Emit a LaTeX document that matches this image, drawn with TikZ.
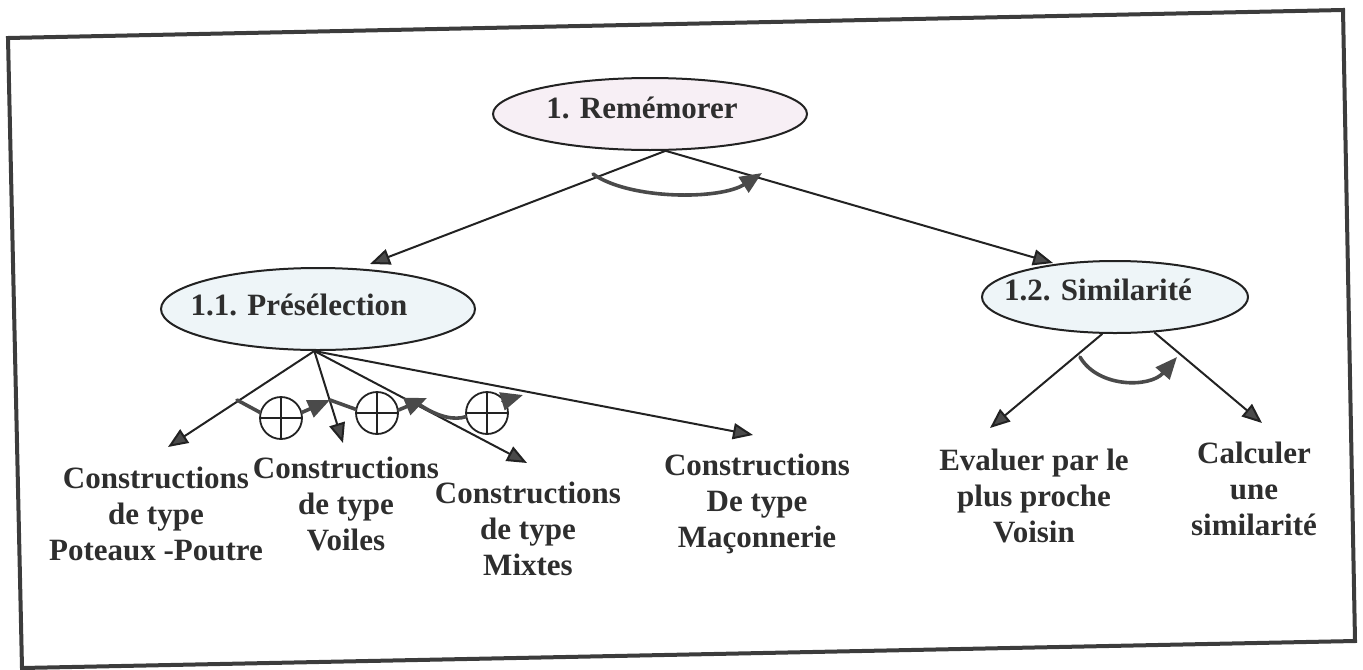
\documentclass[tikz,border=0pt]{standalone}
\usepackage{fontspec}
\setmainfont{Liberation Serif}
\usetikzlibrary{arrows.meta,shapes.geometric,calc}
\definecolor{ink}{HTML}{222222}
\definecolor{txt}{HTML}{2E2E2E}
\definecolor{headgray}{HTML}{4A4A4A}
\definecolor{framegray}{HTML}{3C3C3C}
\definecolor{pinkfill}{HTML}{F7EFF5}
\definecolor{bluefill}{HTML}{EEF5F8}
\begin{document}
\begin{tikzpicture}[x=0.5pt,y=-0.5pt,
  lbl/.style={font=\bfseries\fontsize{15.5pt}{17.9pt}\selectfont, text=txt, inner sep=0pt, align=center, anchor=base},
  goal/.style={ellipse, draw=ink, line width=1pt, inner sep=0pt},
  link/.style={draw=ink, line width=1pt, -{Triangle[length=10pt,width=8pt,fill=headgray]}},
  flow/.style={draw=headgray, line width=1.8pt, line cap=round},
  flowtip/.style={flow, -{Triangle[length=11pt,width=9pt]}},
  opl/.style={circle, draw=ink, fill=white, line width=0.9pt, minimum size=21pt, inner sep=0pt},
]
\useasboundingbox (0,0) rectangle (1363,669);

% outer frame
\draw[line width=2pt, draw=framegray, line join=miter] (8,38) -- (1343,10) -- (1355,641) -- (22,668) -- cycle;

% goal ellipses
\node[goal, fill=pinkfill, minimum width=157pt, minimum height=36pt] (rem) at (650,114) {};
\node[lbl] (remt) at (642,118) {1. Remémorer};
\node[goal, fill=bluefill, minimum width=157pt, minimum height=41pt] (pre) at (318,309) {};
\node[lbl] (pret) at (299,315) {1.1. Présélection};
\node[goal, fill=bluefill, minimum width=133pt, minimum height=36pt] (sim) at (1115,297) {};
\node[lbl] (simt) at (1098,300) {1.2. Similarité};

% leaf labels (anchored on the baseline of their last line)
\node[lbl] (poteaux) at (156,560) {Constructions\\de type\\Poteaux -Poutre};
\node[lbl] (voiles) at (346,550) {Constructions\\de type\\Voiles};
\node[lbl] (mixtes) at (528,575) {Constructions\\de type\\Mixtes};
\node[lbl] (maconn) at (757,547) {Constructions\\De type\\Maçonnerie};
\node[lbl] (voisin) at (1034,542) {Evaluer par le\\plus proche\\Voisin};
\node[lbl] (calcul) at (1254,535) {Calculer\\une\\similarité};

% arrow tips above the leaves
\coordinate (tipPre) at (370,264);
\coordinate (tipSim) at (1053,263);
\coordinate (tipPot) at (168,447);
\coordinate (tipVoi) at (343,443);
\coordinate (tipMix) at (527,463);
\coordinate (tipMac) at (753,435);
\coordinate (tipVsn) at (990,428);
\coordinate (tipCal) at (1262,423);

% decomposition links
\draw[link] (rem.-67) -- (tipPre);
\draw[link] (rem.-67) -- (tipSim);
\draw[link] (pre.-95) -- (tipPot);
\draw[link] (pre.-95) -- (tipVoi);
\draw[link] (pre.-95) -- (tipMix);
\draw[link] (pre.-95) -- (tipMac);
\draw[link] (sim.-109) -- (tipVsn);
\draw[link] (sim.-42) -- (tipCal);

% sequence arcs
\coordinate (r0) at (593,174);
\coordinate (r1) at (762,173);
\draw[flowtip] (r0) .. controls (630,200) and (720,200) .. (r1);
\coordinate (s0) at (1080,357);
\coordinate (s1) at (1177,357);
\draw[flowtip] (s0) .. controls (1098,388) and (1150,388) .. (s1);

% alternatives with plus circles
\node[opl] (c1) at (281,418) {};
\node[opl] (c2) at (377,413) {};
\node[opl] (c3) at (487,413) {};
\foreach \c in {c1,c2,c3}{
  \draw[ink, line width=0.9pt] (\c.north) -- (\c.south) (\c.west) -- (\c.east);
}
\coordinate (a0) at (237,400);
\coordinate (a1) at (330,400);
\coordinate (b1) at (427,398);
\coordinate (d0) at (420,405);
\coordinate (d1) at (523,395);
\draw[flow] (a0) -- (c1.165);
\draw[flowtip] (c1.15) -- (a1);
\draw[flow] (a1) -- (c2.170);
\draw[flowtip] (c2.8) -- (b1);
\draw[flow] (d0) .. controls (440,418) and (455,420) .. (c3.190);
\draw[flowtip] (c3.35) -- (d1);
\end{tikzpicture}
\end{document}
